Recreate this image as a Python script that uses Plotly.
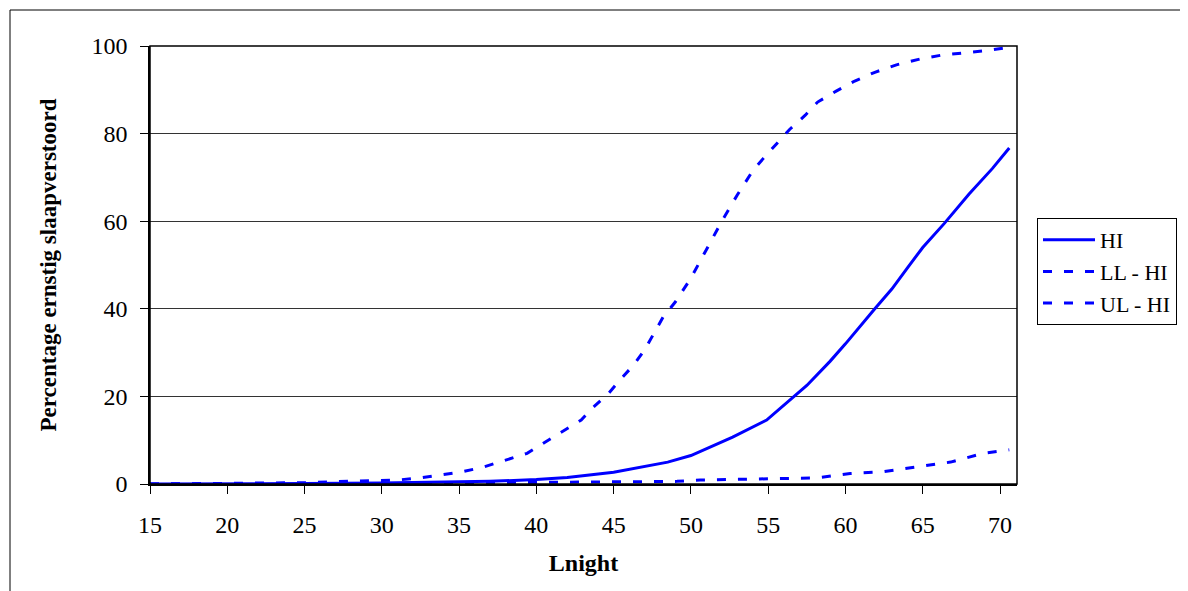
import plotly.graph_objects as go

# ---- data ----
hi_x = [15, 20, 25, 30, 35, 37, 40, 42, 45, 47, 48.5, 50, 51, 52.7, 54.9, 56, 57.5, 59, 60, 61.9, 63, 64, 65, 66.4, 68, 69.5, 70.6]
hi_y = [0, 0, 0.1, 0.2, 0.4, 0.6, 1.0, 1.5, 2.7, 4, 5, 6.5, 8, 10.7, 14.6, 18, 22.5, 28, 32, 40, 44.5, 49.3, 54, 59.5, 66.2, 72, 76.7]

ll_x = [15, 25, 30, 35, 41.5, 45, 49.1, 50.6, 53.8, 56, 58.2, 60.3, 62.4, 64.6, 66.8, 68.9, 70.6]
ll_y = [0, 0.05, 0.1, 0.2, 0.4, 0.5, 0.6, 0.9, 1.1, 1.3, 1.4, 2.4, 2.8, 3.9, 5.0, 7.0, 7.8]

ul_x = [15, 20, 25, 28.5, 31, 32.5, 35.1, 36.6, 39.4, 41.5, 42.9, 43.7, 44.7, 45.4, 46.3, 47, 47.6, 48.2, 49, 50, 51, 52, 53, 54, 54.7,
        55.6, 56.4, 57.4, 58.2, 59.4, 60.6, 61.9, 63.3, 64.8, 66.2, 67.6, 69, 70.6]
ul_y = [0, 0.1, 0.3, 0.7, 0.9, 1.4, 2.7, 3.9, 7, 11.6, 14.6, 17.6, 20.8, 23.7, 27.2, 30.6, 34.5, 38.1, 41.6, 47, 53.5, 60, 66, 71.5, 74.4,
        77.9, 81, 84.2, 87.2, 89.7, 92, 94, 95.7, 97, 97.9, 98.4, 98.9, 99.7]

series_names = ["HI", "LL - HI", "UL - HI"]
x_ticks = [15, 20, 25, 30, 35, 40, 45, 50, 55, 60, 65, 70]
y_ticks = [0, 20, 40, 60, 80, 100]

BLUE = "#0000FF"
FONT = "Liberation Serif"

fig = go.Figure()
fig.add_trace(go.Scatter(x=hi_x, y=hi_y, mode="lines", name=series_names[0],
                         line=dict(color=BLUE, width=3)))
fig.add_trace(go.Scatter(x=ll_x, y=ll_y, mode="lines", name=series_names[1],
                         line=dict(color=BLUE, width=3, dash="9px,12px")))
fig.add_trace(go.Scatter(x=ul_x, y=ul_y, mode="lines", name=series_names[2],
                         line=dict(color=BLUE, width=3, dash="9px,12px")))

# the page body has an 8px margin, so the figure is placed 8px right/down
OFF = 8
L, T, R_PX, B_PX = 150 - OFF, 46 - OFF, 1017 - OFF, 484 - OFF
W, H = 1188, 591
PW, PH = R_PX - L, B_PX - T

fig.update_layout(
    width=W, height=H,
    margin=dict(l=L, r=W - R_PX, t=T, b=H - B_PX),
    paper_bgcolor="white", plot_bgcolor="white",
    font=dict(family=FONT, size=24, color="black"),
    showlegend=True,
    legend=dict(
        x=(1037 - OFF - L) / PW, y=(B_PX - (218 - OFF)) / PH, xanchor="left", yanchor="top",
        bordercolor="black", borderwidth=1, bgcolor="white",
        font=dict(family=FONT, size=22, color="black"),
        tracegroupgap=0, itemwidth=52,
    ),
    shapes=[
        # outer chart frame
        dict(type="rect", xref="paper", yref="paper",
             x0=(10 - OFF - L) / PW, x1=(1400 - L) / PW,
             y0=(B_PX - 800) / PH, y1=(B_PX - (10 - OFF)) / PH,
             line=dict(color="black", width=1), layer="below"),
        # plot area frame
        dict(type="rect", xref="paper", yref="paper", x0=0, x1=1, y0=0, y1=1,
             line=dict(color="black", width=1.5)),
    ],
)

fig.update_xaxes(
    range=[15, 71.1], tickmode="array", tickvals=x_ticks,
    ticks="outside", ticklen=8, tickcolor="black", tickwidth=1,
    showline=True, linecolor="black", linewidth=1.5,
    showgrid=False, zeroline=False,
    ticklabelstandoff=10,
    tickfont=dict(family=FONT, size=24),
    title=dict(text="<b>Lnight</b>", font=dict(family=FONT, size=24), standoff=18),
)
fig.update_yaxes(
    range=[0, 100], tickmode="array", tickvals=y_ticks,
    ticks="outside", ticklen=8, tickcolor="black", tickwidth=1,
    showline=True, linecolor="black", linewidth=1.5,
    showgrid=True, gridcolor="#333333", gridwidth=1, zeroline=False,
    ticklabelstandoff=8,
    tickfont=dict(family=FONT, size=24),
    title=dict(text="<b>Percentage ernstig slaapverstoord</b>", font=dict(family=FONT, size=23), standoff=28),
)

fig.write_html("out.html")
